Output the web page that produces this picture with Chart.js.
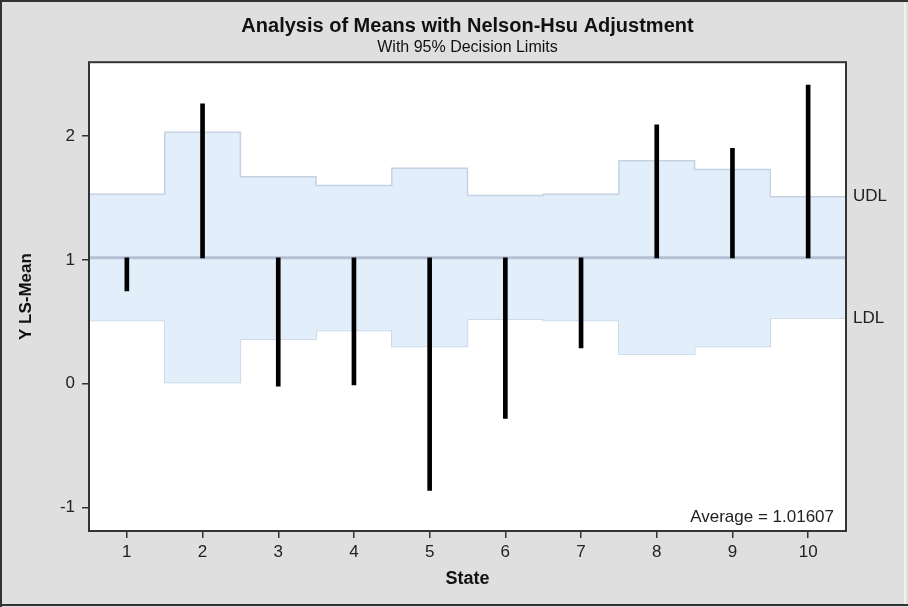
<!DOCTYPE html>
<html><head><meta charset="utf-8">
<script src="https://cdn.jsdelivr.net/npm/chart.js@4"></script>
<style>
html,body{margin:0;padding:0;background:#dfdfdf;overflow:hidden}
#wrap{position:relative;width:908px;height:607px}
</style></head>
<body><div id="wrap"><canvas id="c"></canvas></div>
<script>
// ---- data ----
const states = [1, 2, 3, 4, 5, 6, 7, 8, 9, 10];
const lsMeans = [0.75, 2.26, -0.02, -0.01, -0.86, -0.28, 0.29, 2.09, 1.90, 2.41];
const udl = [1.53, 2.03, 1.67, 1.60, 1.74, 1.52, 1.53, 1.80, 1.73, 1.51];
const ldl = [0.51, 0.01, 0.36, 0.43, 0.30, 0.52, 0.51, 0.24, 0.30, 0.53];
const average = 1.01607;
const yTicks = [-1, 0, 1, 2];
const yMin = -1.188, yMax = 2.595;
const xMin = 0.5, xMax = 10.5;

const FONT = "'Liberation Sans', Arial, sans-serif";

function stepPoints(vals) {
  const pts = states.map((s, i) => ({ x: s - 0.5, y: vals[i] }));
  pts.push({ x: states[states.length - 1] + 0.5, y: vals[vals.length - 1] });
  return pts;
}

const framePlugin = {
  id: 'frame',
  beforeDraw(chart) {
    const { ctx, chartArea: a, width, height } = chart;
    ctx.save();
    ctx.fillStyle = '#dfdfdf';
    ctx.fillRect(0, 0, width, height);
    ctx.fillStyle = '#ffffff';
    ctx.fillRect(a.left, a.top, a.right - a.left, a.bottom - a.top);
    ctx.fillStyle = '#333333';
    ctx.fillRect(0, 0, width, 2);
    ctx.fillRect(0, 0, 2, height);
    ctx.fillRect(0, height - 3, width, 2);
    ctx.fillStyle = '#f2f2f2';
    ctx.fillRect(width - 4, 2, 2, height - 5);
    ctx.restore();
  },
  afterDraw(chart) {
    const { ctx, chartArea: a } = chart;
    ctx.save();
    ctx.strokeStyle = '#333333';
    ctx.lineWidth = 2;
    ctx.strokeRect(a.left, a.top, a.right - a.left, a.bottom - a.top);
    ctx.fillStyle = '#222222';
    ctx.font = '17px ' + FONT;
    ctx.textAlign = 'right';
    ctx.textBaseline = 'alphabetic';
    ctx.fillText('Average = ' + average, a.right - 12, a.bottom - 9.5);
    ctx.restore();
  }
};

new Chart(document.getElementById('c'), {
  type: 'bar',
  data: {
    datasets: [
      {
        type: 'bar',
        data: states.map((s, i) => ({ x: s, y: [average, lsMeans[i]] })),
        backgroundColor: '#000000',
        borderWidth: 0,
        barThickness: 4,
        xAxisID: 'x', yAxisID: 'y'
      },
      {
        type: 'line',
        data: [{ x: xMin, y: average }, { x: xMax, y: average }],
        borderColor: '#b4c1d4',
        borderWidth: 3,
        pointRadius: 0,
        fill: false,
        xAxisID: 'x', yAxisID: 'y'
      },
      {
        type: 'line',
        data: stepPoints(udl),
        stepped: true,
        borderColor: '#c5d2e4',
        borderWidth: 1.5,
        pointRadius: 0,
        fill: '+1',
        backgroundColor: '#e3eefb',
        xAxisID: 'x', yAxisID: 'y'
      },
      {
        type: 'line',
        data: stepPoints(ldl),
        stepped: true,
        borderColor: '#c5d2e4',
        borderWidth: 1.5,
        pointRadius: 0,
        fill: false,
        xAxisID: 'x', yAxisID: 'y'
      }
    ]
  },
  options: {
    responsive: true,
    maintainAspectRatio: false,
    animation: false,
    events: [],
    layout: { padding: 0 },
    plugins: {
      legend: { display: false },
      tooltip: { enabled: false },
      title: {
        display: true,
        text: 'Analysis of Means with Nelson-Hsu Adjustment',
        fullSize: false,
        color: '#111111',
        font: { family: FONT, size: 20, weight: 'bold' },
        padding: { top: 14, bottom: 0 }
      },
      subtitle: {
        display: true,
        text: 'With 95% Decision Limits',
        fullSize: false,
        color: '#111111',
        font: { family: FONT, size: 16 },
        padding: { top: 0, bottom: 5 }
      }
    },
    scales: {
      x: {
        type: 'linear',
        min: xMin, max: xMax,
        offset: false,
        afterBuildTicks: s => { s.ticks = states.map(v => ({ value: v })); },
        afterFit: s => { s.height = 76; },
        grid: { display: true, offset: false, drawOnChartArea: false, drawTicks: true, tickLength: 7, tickColor: '#333333', lineWidth: 1.5 },
        border: { display: false },
        ticks: { color: '#222222', font: { family: FONT, size: 17 }, padding: 4, autoSkip: false, maxRotation: 0 },
        title: { display: true, text: 'State', color: '#111111', font: { family: FONT, size: 18, weight: 'bold' }, padding: { top: 0, bottom: 17 } }
      },
      y: {
        type: 'linear',
        position: 'left',
        min: yMin, max: yMax,
        afterBuildTicks: s => { s.ticks = yTicks.map(v => ({ value: v })); },
        afterFit: s => { s.width = 89; },
        grid: { display: true, drawOnChartArea: false, drawTicks: true, tickLength: 7, tickColor: '#333333', lineWidth: 1.5 },
        border: { display: false },
        ticks: { color: '#222222', font: { family: FONT, size: 17 }, padding: 7 },
        title: { display: true, text: 'Y LS-Mean', color: '#111111', font: { family: FONT, size: 17, weight: 'bold' }, padding: { top: 16, bottom: 0 } }
      },
      yR: {
        type: 'linear',
        position: 'right',
        min: yMin, max: yMax,
        afterBuildTicks: s => { s.ticks = [{ value: ldl[ldl.length - 1] }, { value: udl[udl.length - 1] }]; },
        afterFit: s => { s.width = 62; },
        grid: { display: false, drawTicks: false },
        border: { display: false },
        ticks: {
          color: '#222222', font: { family: FONT, size: 17 }, padding: 7,
          callback: v => (v === udl[udl.length - 1] ? 'UDL' : 'LDL')
        }
      }
    }
  },
  plugins: [framePlugin]
});
</script>
</body></html>
